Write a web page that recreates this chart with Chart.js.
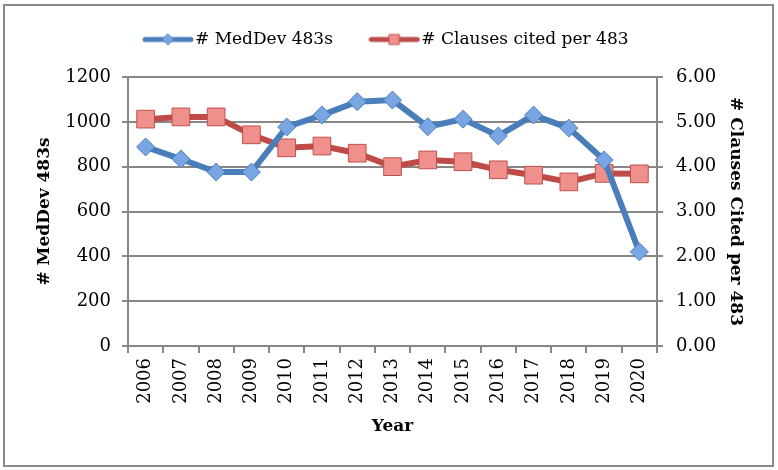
<!DOCTYPE html>
<html>
<head>
<meta charset="utf-8">
<script src="https://cdn.jsdelivr.net/npm/chart.js@4/dist/chart.umd.min.js"></script>
<style>
  body { margin: 0; background: #fff; }
  #wrap { position: relative; width: 778px; height: 470px; }
  #frame { position: absolute; left: 3px; top: 4px; width: 767px; height: 459px; border: 2px solid #8a8a8a; }
  canvas { position: absolute; left: 0; top: 0; }
</style>
</head>
<body>
<div id="wrap">
  <div id="frame"></div>
  <canvas id="chart" width="778" height="470"></canvas>
</div>
<script>
// Données
const years = ["2006", "2007", "2008", "2009", "2010", "2011", "2012", "2013", "2014", "2015", "2016", "2017", "2018", "2019", "2020"];
const medDev483s = [888, 834, 776, 776, 977, 1030, 1090, 1097, 978, 1012, 937, 1030, 972, 830, 420];
const clausesPer483 = [5.06, 5.11, 5.11, 4.71, 4.42, 4.46, 4.30, 4.00, 4.15, 4.11, 3.93, 3.81, 3.66, 3.85, 3.84];
const leftTicks = [0, 200, 400, 600, 800, 1000, 1200];
const rightTicks = [0, 1, 2, 3, 4, 5, 6];

const blue = "#4a7ebb";
const red = "#be4b48";
const gridColor = "#878787";
const serif = "'DejaVu Serif', serif";
const tickFont = { family: serif, size: 18 };
const titleFont = { family: serif, size: 17, weight: "bold" };

// Icône de légende : ligne + petit marqueur
function legendIcon(lineColor, shape, fill, border) {
    const c = document.createElement("canvas");
    c.width = 52;
    c.height = 16;
    const g = c.getContext("2d");
    g.strokeStyle = lineColor;
    g.lineWidth = 5;
    g.lineCap = "round";
    g.beginPath();
    g.moveTo(3, 8);
    g.lineTo(49, 8);
    g.stroke();
    g.fillStyle = fill;
    g.strokeStyle = border;
    g.lineWidth = 1;
    g.beginPath();
    if (shape === "diamond") {
        g.moveTo(26, 2.5); g.lineTo(31.5, 8); g.lineTo(26, 13.5); g.lineTo(20.5, 8); g.closePath();
    } else {
        g.rect(21, 3, 10, 10);
    }
    g.fill();
    g.stroke();
    return c;
}

const icons = [
    legendIcon(blue, "diamond", "#79a5e2", "#4f81bd"),
    legendIcon(red, "square", "#f0908d", "#c0504d")
];

// Hauteur fixe pour la légende (place le graphique sous la légende)
const legendHeight = {
    id: "legendHeight",
    afterInit: function(chart) {
        const legend = chart.legend;
        const fit = legend.fit;
        legend.fit = function() {
            fit.call(legend);
            legend.height = 89;
        };
    }
};

const ctx = document.getElementById("chart").getContext("2d");
const chart = new Chart(ctx, {
    type: "line",
    data: {
        labels: years,
        datasets: [{
            label: "# MedDev 483s",
            data: medDev483s,
            yAxisID: "y",
            borderColor: blue,
            borderWidth: 6,
            pointStyle: "rectRot",
            pointRadius: 9,
            pointBackgroundColor: "#79a5e2",
            pointBorderColor: "#4f81bd",
            pointBorderWidth: 1,
            tension: 0
        }, {
            label: "# Clauses cited per 483",
            data: clausesPer483,
            yAxisID: "y1",
            borderColor: red,
            borderWidth: 6,
            pointStyle: "rect",
            pointRadius: 12.5,
            pointBackgroundColor: "#f0908d",
            pointBorderColor: "#c0504d",
            pointBorderWidth: 1,
            tension: 0
        }]
    },
    plugins: [legendHeight],
    options: {
        responsive: false,
        animation: false,
        devicePixelRatio: 1,
        layout: { padding: { top: -12, left: 0, right: 0, bottom: 0 } },
        plugins: {
            legend: {
                display: true,
                position: "top",
                labels: {
                    usePointStyle: true,
                    pointStyleWidth: 37,
                    color: "#000",
                    padding: 43,
                    font: { family: serif, size: 17 },
                    generateLabels: function(chart) {
                        const items = Chart.defaults.plugins.legend.labels.generateLabels(chart);
                        items.forEach((it, i) => { it.pointStyle = icons[i]; });
                        return items;
                    }
                }
            },
            tooltip: { enabled: false }
        },
        scales: {
            x: {
                offset: true,
                grid: { offset: true, drawOnChartArea: false, color: gridColor, lineWidth: 2, tickLength: 7 },
                border: { color: gridColor, width: 2 },
                ticks: { color: "#000", font: tickFont, minRotation: 90, maxRotation: 90, padding: 5 },
                title: { display: true, text: "Year", color: "#000", font: titleFont, padding: { top: 0, bottom: 33 } },
                afterFit: function(scale) { scale.height = 124; }
            },
            y: {
                position: "left",
                min: 0,
                max: 1200,
                afterBuildTicks: function(scale) { scale.ticks = leftTicks.map(v => ({ value: v })); },
                grid: { color: gridColor, lineWidth: 2, tickLength: 6 },
                border: { color: gridColor, width: 2 },
                ticks: { color: "#000", font: tickFont, padding: 11, callback: v => String(v) },
                title: { display: true, text: "# MedDev 483s", color: "#000", font: titleFont, padding: { top: 34, bottom: 0 } },
                afterFit: function(scale) { scale.width = 128; }
            },
            y1: {
                position: "right",
                min: 0,
                max: 6,
                afterBuildTicks: function(scale) { scale.ticks = rightTicks.map(v => ({ value: v })); },
                grid: { drawOnChartArea: false, color: gridColor, lineWidth: 2, tickLength: 6 },
                border: { color: gridColor, width: 2 },
                ticks: { color: "#000", font: tickFont, padding: 13, callback: v => v.toFixed(2) },
                title: { display: true, text: "# Clauses Cited per 483", color: "#000", font: titleFont, padding: { top: 32, bottom: 0 } },
                afterFit: function(scale) { scale.width = 121; }
            }
        }
    }
});
</script>
</body>
</html>
